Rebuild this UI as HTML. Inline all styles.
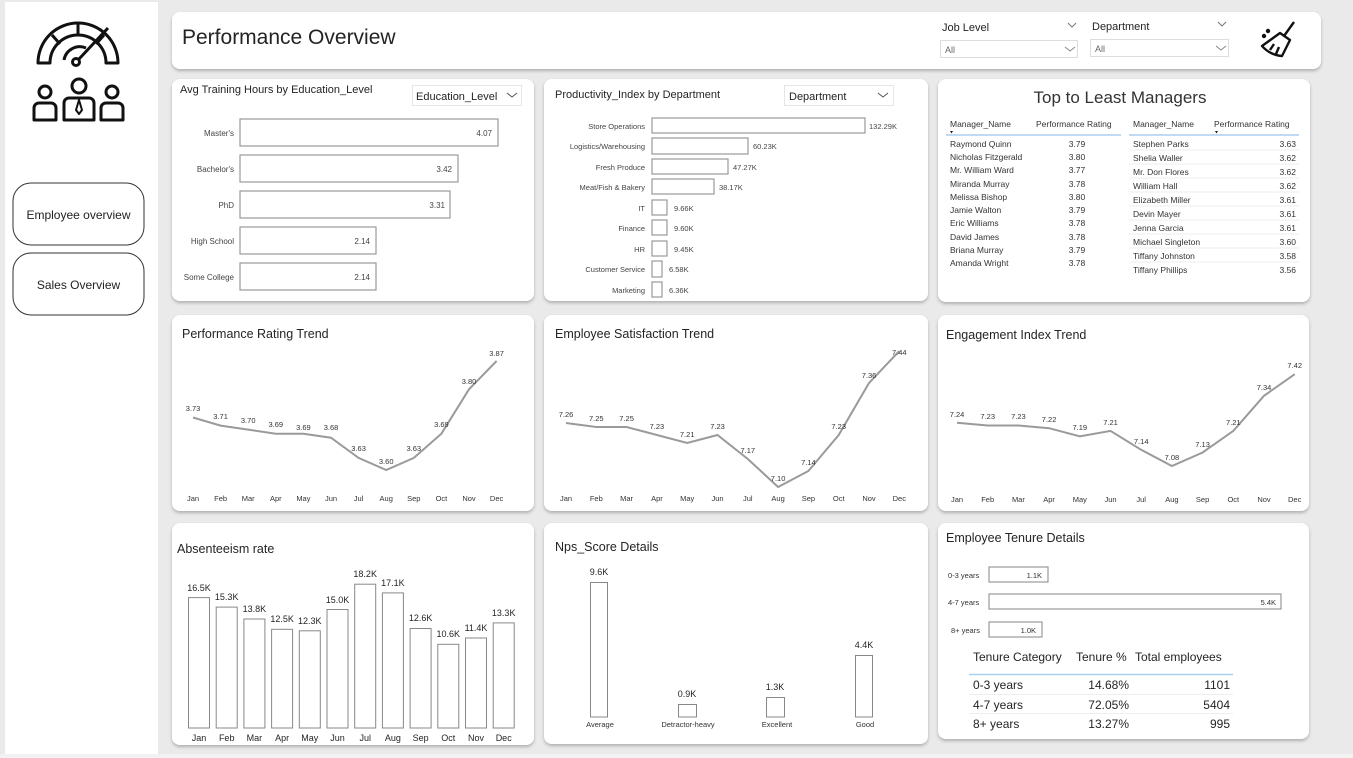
<!DOCTYPE html>
<html><head><meta charset="utf-8"><style>
html,body{margin:0;padding:0;background:#eaeaea;}
svg{display:block;font-family:"Liberation Sans",sans-serif;}
</style></head><body>
<svg width="1353" height="758" viewBox="0 0 1353 758" xmlns="http://www.w3.org/2000/svg">
<defs><filter id="sh" x="-5%" y="-5%" width="110%" height="115%"><feDropShadow dx="0" dy="2" stdDeviation="1.5" flood-color="#000" flood-opacity="0.25"/></filter></defs>
<rect width="1353" height="758" fill="#eaeaea"/>
<rect x="5" y="2" width="153" height="753" fill="#fff"/>
<!-- sidebar icon -->
<g fill="none" stroke="#111" stroke-width="3" stroke-linejoin="round">
<path d="M38 63 A40 40 0 0 1 118 63 L106 63 A28 28 0 0 0 50 63 Z"/>
<path d="M78 23 L78 35 M52 35 L60 44 M104 35 L96 44"/>
<path d="M64 60 A16 16 0 0 1 86 48"/>
<circle cx="76" cy="62" r="3.5"/><path d="M79 59 L108 28"/>
<circle cx="45" cy="92" r="6"/><path d="M34 120 V108 A5 5 0 0 1 39 103 H51 A5 5 0 0 1 56 108 V120 Z"/>
<circle cx="112" cy="92" r="6"/><path d="M101 120 V108 A5 5 0 0 1 106 103 H118 A5 5 0 0 1 123 108 V120 Z"/>
<circle cx="79" cy="86" r="7"/><path d="M64 120 V103 A5 5 0 0 1 69 98 H89 A5 5 0 0 1 94 103 V120 Z"/>
<path d="M79 100 L76 110 L79 114 L82 110 Z" stroke-width="2"/>
</g>
<rect x="13" y="183" width="131" height="62" rx="18" fill="#fff" stroke="#333"/>
<text x="78.5" y="219" font-size="12" text-anchor="middle" fill="#222">Employee overview</text>
<rect x="13" y="253" width="131" height="62" rx="18" fill="#fff" stroke="#333"/>
<text x="78.5" y="289" font-size="12" text-anchor="middle" fill="#222">Sales Overview</text>

<!-- panels -->
<g fill="#fff" filter="url(#sh)">
<rect x="172" y="12" width="1149" height="57" rx="8"/>
<rect x="172" y="79" width="362" height="222" rx="8"/>
<rect x="544" y="79" width="384" height="222" rx="8"/>
<rect x="938" y="79" width="372" height="223" rx="8"/>
<rect x="172" y="315" width="362" height="196" rx="8"/>
<rect x="544" y="315" width="384" height="196" rx="8"/>
<rect x="938" y="315" width="371" height="196" rx="8"/>
<rect x="172" y="523" width="362" height="222" rx="8"/>
<rect x="544" y="523" width="384" height="221" rx="8"/>
<rect x="938" y="523" width="371" height="216" rx="8"/>
</g>

<!-- header -->
<text x="182" y="44" font-size="21" fill="#252423">Performance Overview</text>
<text x="942" y="31" font-size="11" fill="#252423">Job Level</text>
<path d="M1068 23 l4 4 l4 -4" fill="none" stroke="#777"/>
<rect x="940.5" y="40.5" width="137" height="17" fill="#fff" stroke="#ddd"/>
<text x="945" y="53" font-size="9" fill="#666">All</text>
<path d="M1065 47 l5 4 l5 -4" fill="none" stroke="#888"/>
<text x="1092" y="30" font-size="11" fill="#252423">Department</text>
<path d="M1218 22 l4 4 l4 -4" fill="none" stroke="#777"/>
<rect x="1090.5" y="39.5" width="138" height="17" fill="#fff" stroke="#ddd"/>
<text x="1095" y="52" font-size="9" fill="#666">All</text>
<path d="M1216 46 l5 4 l5 -4" fill="none" stroke="#888"/>
<g fill="none" stroke="#111" stroke-width="2.4" stroke-linejoin="round">
<path d="M1294 22 L1284 36"/>
<path d="M1280 33 L1290 40 L1282 56 Q1270 55 1262 46 Z"/>
<path d="M1270 50 L1274 44 M1276 54 L1279 47"/>
<circle cx="1264" cy="36" r="1" fill="#111"/><circle cx="1268" cy="31" r="1" fill="#111"/>
</g>

<!-- Avg Training Hours -->
<text x="180" y="93" font-size="11" fill="#252423">Avg Training Hours by Education_Level</text>
<rect x="412.5" y="85.5" width="109" height="20" fill="#fff" stroke="#e6e6e6"/>
<text x="416" y="100" font-size="11" fill="#252423">Education_Level</text>
<path d="M507 93 l5 4 l5 -4" fill="none" stroke="#555"/>
<g font-size="8" fill="#444" text-anchor="end">
<text x="234" y="136">Master's</text><text x="234" y="172">Bachelor's</text><text x="234" y="208">PhD</text><text x="234" y="244">High School</text><text x="234" y="280">Some College</text>
</g>
<g fill="#fff" stroke="#999" stroke-width="1.2">
<rect x="240" y="119" width="258" height="27"/><rect x="240" y="155" width="218" height="27"/><rect x="240" y="191" width="210" height="27"/><rect x="240" y="227" width="136" height="27"/><rect x="240" y="263" width="136" height="27"/>
</g>
<g font-size="8" fill="#444" text-anchor="end">
<text x="492" y="136">4.07</text><text x="452" y="172">3.42</text><text x="445" y="208">3.31</text><text x="370" y="244">2.14</text><text x="370" y="280">2.14</text>
</g>

<!-- Productivity -->
<text x="555" y="98" font-size="11" fill="#252423">Productivity_Index by Department</text>
<rect x="784.5" y="85.5" width="109" height="20" fill="#fff" stroke="#e6e6e6"/>
<text x="789" y="100" font-size="11" fill="#252423">Department</text>
<path d="M878 93 l5 4 l5 -4" fill="none" stroke="#555"/>
<g font-size="7.5" fill="#444" text-anchor="end">
<text x="645" y="129">Store Operations</text><text x="645" y="149">Logistics/Warehousing</text><text x="645" y="170">Fresh Produce</text><text x="645" y="190">Meat/Fish &amp; Bakery</text><text x="645" y="211">IT</text><text x="645" y="231">Finance</text><text x="645" y="252">HR</text><text x="645" y="272">Customer Service</text><text x="645" y="293">Marketing</text>
</g>
<g fill="#fff" stroke="#999" stroke-width="1.2">
<rect x="652" y="118" width="213" height="15"/><rect x="652" y="138" width="96" height="16"/><rect x="652" y="159" width="76" height="15"/><rect x="652" y="179" width="62" height="15"/><rect x="652" y="200" width="15" height="15"/><rect x="652" y="220" width="15" height="15"/><rect x="652" y="241" width="15" height="15"/><rect x="652" y="261" width="10" height="16"/><rect x="652" y="282" width="10" height="15"/>
</g>
<g font-size="7.5" fill="#444">
<text x="869" y="129">132.29K</text><text x="753" y="149">60.23K</text><text x="733" y="170">47.27K</text><text x="719" y="190">38.17K</text><text x="674" y="211">9.66K</text><text x="674" y="231">9.60K</text><text x="674" y="252">9.45K</text><text x="669" y="272">6.58K</text><text x="669" y="293">6.36K</text>
</g>

<!-- Managers -->
<text x="1120" y="103" font-size="17" fill="#333" text-anchor="middle">Top to Least Managers</text>
<g font-size="8.5" fill="#333">
<text x="950" y="127">Manager_Name</text><text x="1036" y="127">Performance Rating</text>
<text x="1133" y="127">Manager_Name</text><text x="1214" y="127">Performance Rating</text>
</g>
<path d="M950 131 l3 0 l-1.5 2.5z M1215 131 l3 0 l-1.5 2.5z" fill="#222"/>
<path d="M946 135 H1121 M1129 135 H1299" stroke="#7fb4e6" stroke-width="1"/>
<g font-size="8.5" fill="#333">
<text x="950" y="147">Raymond Quinn</text><text x="950" y="160">Nicholas Fitzgerald</text><text x="950" y="173">Mr. William Ward</text><text x="950" y="187">Miranda Murray</text><text x="950" y="200">Melissa Bishop</text><text x="950" y="213">Jamie Walton</text><text x="950" y="226">Eric Williams</text><text x="950" y="240">David James</text><text x="950" y="253">Briana Murray</text><text x="950" y="266">Amanda Wright</text>
</g>
<g font-size="8.5" fill="#333" text-anchor="middle">
<text x="1077" y="147">3.79</text><text x="1077" y="160">3.80</text><text x="1077" y="173">3.77</text><text x="1077" y="187">3.78</text><text x="1077" y="200">3.80</text><text x="1077" y="213">3.79</text><text x="1077" y="226">3.78</text><text x="1077" y="240">3.78</text><text x="1077" y="253">3.79</text><text x="1077" y="266">3.78</text>
</g>
<g stroke="#eee"><path d="M1129 150H1299M1129 164H1299M1129 178H1299M1129 192H1299M1129 206H1299M1129 220H1299M1129 234H1299M1129 248H1299M1129 262H1299"/></g>
<g font-size="8.5" fill="#333">
<text x="1133" y="147">Stephen Parks</text><text x="1133" y="161">Shelia Waller</text><text x="1133" y="175">Mr. Don Flores</text><text x="1133" y="189">William Hall</text><text x="1133" y="203">Elizabeth Miller</text><text x="1133" y="217">Devin Mayer</text><text x="1133" y="231">Jenna Garcia</text><text x="1133" y="245">Michael Singleton</text><text x="1133" y="259">Tiffany Johnston</text><text x="1133" y="273">Tiffany Phillips</text>
</g>
<g font-size="8.5" fill="#333" text-anchor="end">
<text x="1296" y="147">3.63</text><text x="1296" y="161">3.62</text><text x="1296" y="175">3.62</text><text x="1296" y="189">3.62</text><text x="1296" y="203">3.61</text><text x="1296" y="217">3.61</text><text x="1296" y="231">3.61</text><text x="1296" y="245">3.60</text><text x="1296" y="259">3.58</text><text x="1296" y="273">3.56</text>
</g>

<!-- Line charts -->
<g font-size="12.5" fill="#252423">
<text x="182" y="338">Performance Rating Trend</text>
<text x="555" y="338">Employee Satisfaction Trend</text>
<text x="946" y="339">Engagement Index Trend</text>
</g>
<g fill="none" stroke="#9a9a9a" stroke-width="2">
<polyline points="193,417.5 220.6,425.6 248.2,429.6 275.8,433.7 303.4,433.7 331,437.7 358.6,457.9 386.2,470 413.8,457.9 441.4,433.7 469,389.3 496.6,361"/>
<polyline points="566,423 596.3,427 626.6,427 656.9,435 687.2,443 717.5,435 747.8,459 778.1,487 808.4,471 838.7,435 869,383 899.3,351"/>
<polyline points="957,422.8 987.7,425.5 1018.4,425.5 1049.1,428.2 1079.8,436.3 1110.5,430.9 1141.2,449.8 1171.9,466 1202.6,452.5 1233.3,430.9 1264,395.8 1294.7,374.2"/>
</g>
<g font-size="7.5" fill="#333" text-anchor="middle">
<text x="193" y="411">3.73</text><text x="220.6" y="419">3.71</text><text x="248.2" y="423">3.70</text><text x="275.8" y="427">3.69</text><text x="303.4" y="430">3.69</text><text x="331" y="430">3.68</text><text x="358.6" y="451">3.63</text><text x="386.2" y="464">3.60</text><text x="413.8" y="451">3.63</text><text x="441.4" y="427">3.69</text><text x="469" y="384">3.80</text><text x="496.6" y="356">3.87</text>
<text x="566" y="417">7.26</text><text x="596.3" y="421">7.25</text><text x="626.6" y="421">7.25</text><text x="656.9" y="429">7.23</text><text x="687.2" y="437">7.21</text><text x="717.5" y="429">7.23</text><text x="747.8" y="453">7.17</text><text x="778.1" y="481">7.10</text><text x="808.4" y="465">7.14</text><text x="838.7" y="429">7.23</text><text x="869" y="378">7.36</text><text x="899.3" y="355" dx="0">7.44</text>
<text x="957" y="417">7.24</text><text x="987.7" y="419">7.23</text><text x="1018.4" y="419">7.23</text><text x="1049.1" y="422">7.22</text><text x="1079.8" y="430">7.19</text><text x="1110.5" y="425">7.21</text><text x="1141.2" y="444">7.14</text><text x="1171.9" y="460">7.08</text><text x="1202.6" y="447">7.13</text><text x="1233.3" y="425">7.21</text><text x="1264" y="390">7.34</text><text x="1294.7" y="368">7.42</text>
</g>
<g font-size="7.5" fill="#333" text-anchor="middle">
<text x="193" y="501">Jan</text><text x="220.6" y="501">Feb</text><text x="248.2" y="501">Mar</text><text x="275.8" y="501">Apr</text><text x="303.4" y="501">May</text><text x="331" y="501">Jun</text><text x="358.6" y="501">Jul</text><text x="386.2" y="501">Aug</text><text x="413.8" y="501">Sep</text><text x="441.4" y="501">Oct</text><text x="469" y="501">Nov</text><text x="496.6" y="501">Dec</text>
<text x="566" y="501">Jan</text><text x="596.3" y="501">Feb</text><text x="626.6" y="501">Mar</text><text x="656.9" y="501">Apr</text><text x="687.2" y="501">May</text><text x="717.5" y="501">Jun</text><text x="747.8" y="501">Jul</text><text x="778.1" y="501">Aug</text><text x="808.4" y="501">Sep</text><text x="838.7" y="501">Oct</text><text x="869" y="501">Nov</text><text x="899.3" y="501">Dec</text>
<text x="957" y="502">Jan</text><text x="987.7" y="502">Feb</text><text x="1018.4" y="502">Mar</text><text x="1049.1" y="502">Apr</text><text x="1079.8" y="502">May</text><text x="1110.5" y="502">Jun</text><text x="1141.2" y="502">Jul</text><text x="1171.9" y="502">Aug</text><text x="1202.6" y="502">Sep</text><text x="1233.3" y="502">Oct</text><text x="1264" y="502">Nov</text><text x="1294.7" y="502">Dec</text>
</g>

<!-- Absenteeism -->
<text x="177" y="553" font-size="12.5" fill="#252423">Absenteeism rate</text>
<g fill="#fff" stroke="#888" stroke-width="1">
<rect x="188.5" y="597.6" width="21" height="130.4"/><rect x="216.2" y="607.1" width="21" height="120.9"/><rect x="243.9" y="619" width="21" height="109"/><rect x="271.6" y="629.3" width="21" height="98.7"/><rect x="299.3" y="630.8" width="21" height="97.2"/><rect x="327" y="609.5" width="21" height="118.5"/><rect x="354.7" y="584.2" width="21" height="143.8"/><rect x="382.4" y="592.9" width="21" height="135.1"/><rect x="410.1" y="628.5" width="21" height="99.5"/><rect x="437.8" y="644.3" width="21" height="83.7"/><rect x="465.5" y="638" width="21" height="90"/><rect x="493.2" y="622.9" width="21" height="105.1"/>
</g>
<g font-size="9" fill="#252423" text-anchor="middle">
<text x="199" y="591">16.5K</text><text x="226.7" y="600">15.3K</text><text x="254.4" y="612">13.8K</text><text x="282.1" y="622">12.5K</text><text x="309.8" y="624">12.3K</text><text x="337.5" y="603">15.0K</text><text x="365.2" y="577">18.2K</text><text x="392.9" y="586">17.1K</text><text x="420.6" y="621">12.6K</text><text x="448.3" y="637">10.6K</text><text x="476" y="631">11.4K</text><text x="503.7" y="616">13.3K</text>
<text x="199" y="741">Jan</text><text x="226.7" y="741">Feb</text><text x="254.4" y="741">Mar</text><text x="282.1" y="741">Apr</text><text x="309.8" y="741">May</text><text x="337.5" y="741">Jun</text><text x="365.2" y="741">Jul</text><text x="392.9" y="741">Aug</text><text x="420.6" y="741">Sep</text><text x="448.3" y="741">Oct</text><text x="476" y="741">Nov</text><text x="503.7" y="741">Dec</text>
</g>

<!-- NPS -->
<text x="555" y="551" font-size="12.5" fill="#252423">Nps_Score Details</text>
<g fill="#fff" stroke="#888" stroke-width="1">
<rect x="590.5" y="582.5" width="17" height="134.5"/><rect x="678.5" y="704.5" width="18" height="12.5"/><rect x="766.5" y="697.5" width="18" height="19.5"/><rect x="855.5" y="655.5" width="17" height="61.5"/>
</g>
<g font-size="9" fill="#252423" text-anchor="middle">
<text x="599" y="575">9.6K</text><text x="687" y="697">0.9K</text><text x="775" y="690">1.3K</text><text x="864" y="648">4.4K</text>
</g>
<g font-size="7.5" fill="#333" text-anchor="middle">
<text x="600" y="727">Average</text><text x="688" y="727">Detractor-heavy</text><text x="777" y="727">Excellent</text><text x="865" y="727">Good</text>
</g>

<!-- Tenure -->
<text x="946" y="542" font-size="12.5" fill="#252423">Employee Tenure Details</text>
<g font-size="7.5" fill="#333">
<text x="948" y="578">0-3 years</text><text x="948" y="605">4-7 years</text><text x="951" y="633">8+ years</text>
</g>
<g fill="#fff" stroke="#999" stroke-width="1.2">
<rect x="989" y="567" width="59" height="15"/><rect x="989" y="594" width="292" height="15"/><rect x="989" y="622" width="53" height="15"/>
</g>
<g font-size="7.5" fill="#333" text-anchor="end">
<text x="1042" y="578">1.1K</text><text x="1276" y="605">5.4K</text><text x="1036" y="633">1.0K</text>
</g>
<g font-size="12" fill="#252423">
<text x="973" y="661">Tenure Category</text><text x="1076" y="661">Tenure %</text><text x="1135" y="661">Total employees</text>
</g>
<path d="M969 674.5 H1233" stroke="#a8d0f0" stroke-width="1.5"/>
<path d="M969 694.5 H1233 M969 713.5 H1233" stroke="#eee"/>
<g font-size="12" fill="#252423">
<text x="973" y="689">0-3 years</text><text x="973" y="709">4-7 years</text><text x="973" y="728">8+ years</text>
</g>
<g font-size="12" fill="#252423" text-anchor="end">
<text x="1129" y="689">14.68%</text><text x="1129" y="709">72.05%</text><text x="1129" y="728">13.27%</text>
<text x="1230" y="689">1101</text><text x="1230" y="709">5404</text><text x="1230" y="728">995</text>
</g>
<rect x="0" y="754" width="1353" height="4" fill="#f2f2f2"/>
</svg>
</body></html>
